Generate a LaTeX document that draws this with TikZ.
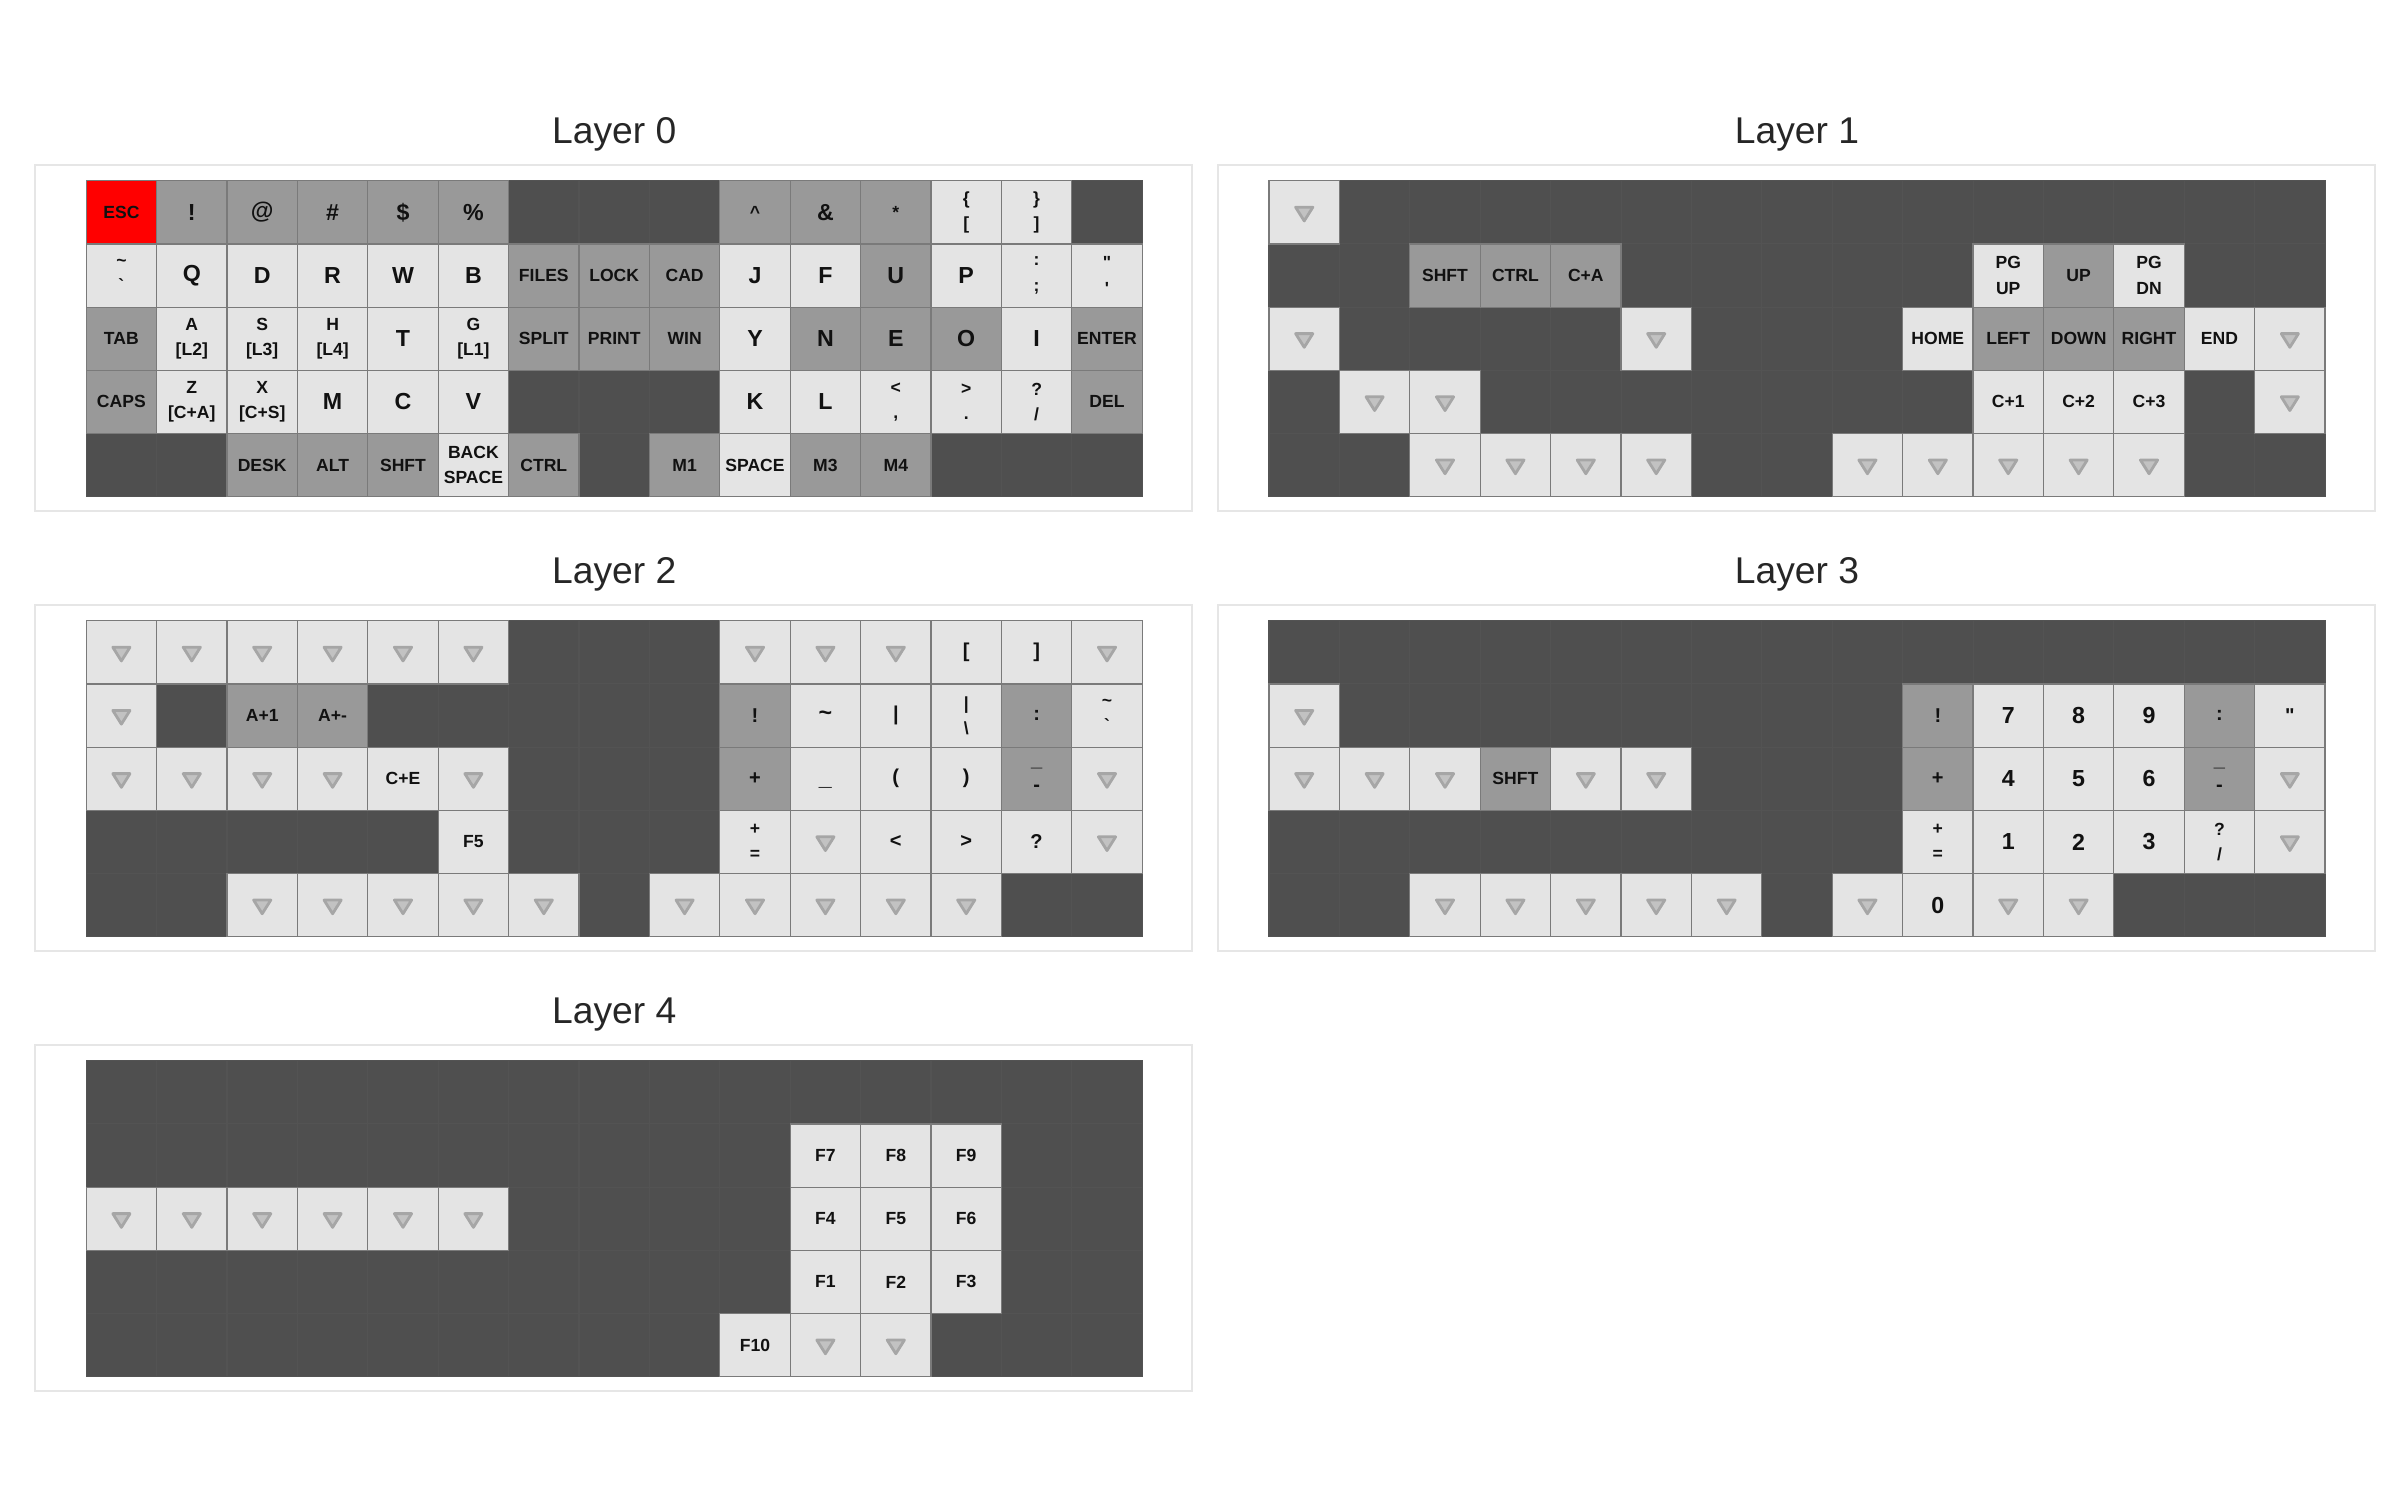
\documentclass[tikz,border=0pt]{standalone}
\usepackage{fontspec}
\setmainfont{Liberation Sans}
\usetikzlibrary{calc}

\definecolor{offfill}{HTML}{4F4F4F}
\definecolor{offline}{HTML}{535353}
\definecolor{midfill}{HTML}{999999}
\definecolor{litefill}{HTML}{E4E4E4}
\definecolor{escfill}{HTML}{FF0000}
\definecolor{keyline}{HTML}{7A7A7A}
\definecolor{frameline}{HTML}{E6E6E6}
\definecolor{markfill}{HTML}{C2C2C2}
\definecolor{markline}{HTML}{A6A6A6}
\definecolor{keytext}{HTML}{111111}
\definecolor{titletext}{HTML}{262626}

\newcommand\capfont{\bfseries\fontsize{5}{7.2}\selectfont}
\newcommand\capbigfont{\bfseries\fontsize{6.6}{7.2}\selectfont}
\newcommand\capsymfont{\bfseries\fontsize{5.7}{7.2}\selectfont}
\newcommand\layerfont{\fontsize{10.6}{12}\selectfont}

% empty 5x15 board, its frame and its title
\newcommand\keyboardgrid[2]{%
  \foreach \row in {0,...,4}
    \foreach \col in {0,...,14}
      \node[blankkey] (#1-off-\row-\col) at (\col+.5,\row+.5) {};
  \draw[framebox] ([shift={(-5.1mm,1.55mm)}]#1-off-0-0.north west)
    rectangle ([shift={(5mm,-1.4mm)}]#1-off-4-14.south east);
  \node[layertitle] (#1-title) at ([yshift=3.74mm]#1-off-0-7.north) {#2};
}

\begin{document}
\begin{tikzpicture}[
  keycell/.style={rectangle,minimum width=7.04mm,minimum height=6.32mm,
    inner sep=0pt,outer sep=0pt,align=center,text=keytext,font=\capfont},
  blankkey/.style={keycell,fill=offfill,draw=offline,line width=0.3pt},
  capkey/.style={keycell,draw=keyline,line width=0.35pt},
  litekey/.style={capkey,fill=litefill},
  midkey/.style={capkey,fill=midfill},
  esckey/.style={capkey,fill=escfill},
  litebig/.style={litekey,font=\capbigfont},
  midbig/.style={midkey,font=\capbigfont},
  litesym/.style={litekey,font=\capsymfont},
  midsym/.style={midkey,font=\capsymfont},
  passkey/.style={litekey,path picture={
    \filldraw[fill=markfill,draw=markline,line width=0.8pt,line join=round]
      ([shift={(-2.45pt,1.45pt)}]path picture bounding box.center)
      -- ++(4.9pt,0pt) -- ++(-2.45pt,-3.9pt) -- cycle;}},
  framebox/.style={draw=frameline,line width=0.6pt},
  layertitle/.style={font=\layerfont,text=titletext,anchor=base,inner sep=0pt}
]
\path[fill=white,use as bounding box] (0,0) rectangle (24,-15);

% Layer 0
\begin{scope}[shift={(0.862,-1.807)},x=7.04mm,y=-6.32mm]
\keyboardgrid{L0}{Layer 0}
\foreach \col/\kind/\lbl in {0/esckey/ESC, 1/midbig/!, 2/midbig/@, 3/midbig/\#,
    4/midbig/\$, 5/midbig/\%, 9/midkey/\textasciicircum, 10/midbig/\&,
    11/midkey/*, 12/litekey/{\{\\{[}}, 13/litekey/{\}\\]}}
  \node[\kind] (L0-0-\col) at (\col+.5,.5) {\lbl};
\foreach \col/\kind/\lbl in {0/litekey/{\textasciitilde\\\textasciigrave},
    1/litebig/Q, 2/litebig/D, 3/litebig/R, 4/litebig/W, 5/litebig/B,
    6/midkey/FILES, 7/midkey/LOCK, 8/midkey/CAD, 9/litebig/J, 10/litebig/F,
    11/midbig/U, 12/litebig/P, 13/litekey/{:\\;},
    14/litekey/{\textquotedbl\\\textquotesingle}}
  \node[\kind] (L0-1-\col) at (\col+.5,1.5) {\lbl};
\foreach \col/\kind/\lbl in {0/midkey/TAB, 1/litekey/{A\\{[L2]}},
    2/litekey/{S\\{[L3]}}, 3/litekey/{H\\{[L4]}}, 4/litebig/T,
    5/litekey/{G\\{[L1]}}, 6/midkey/SPLIT, 7/midkey/PRINT, 8/midkey/WIN,
    9/litebig/Y, 10/midbig/N, 11/midbig/E, 12/midbig/O, 13/litebig/I,
    14/midkey/ENTER}
  \node[\kind] (L0-2-\col) at (\col+.5,2.5) {\lbl};
\foreach \col/\kind/\lbl in {0/midkey/CAPS, 1/litekey/{Z\\{[C+A]}},
    2/litekey/{X\\{[C+S]}}, 3/litebig/M, 4/litebig/C, 5/litebig/V,
    9/litebig/K, 10/litebig/L, 11/litekey/{\textless\\,},
    12/litekey/{\textgreater\\.}, 13/litekey/{?\\/}, 14/midkey/DEL}
  \node[\kind] (L0-3-\col) at (\col+.5,3.5) {\lbl};
\foreach \col/\kind/\lbl in {2/midkey/DESK, 3/midkey/ALT, 4/midkey/SHFT,
    5/litekey/{BACK\\SPACE}, 6/midkey/CTRL, 8/midkey/M1, 9/litekey/SPACE,
    10/midkey/M3, 11/midkey/M4}
  \node[\kind] (L0-4-\col) at (\col+.5,4.5) {\lbl};
\end{scope}

% Layer 1
\begin{scope}[shift={(12.69,-1.807)},x=7.04mm,y=-6.32mm]
\keyboardgrid{L1}{Layer 1}
\node[passkey] (L1-0-0) at (.5,.5) {};
\foreach \col/\kind/\lbl in {2/midkey/SHFT, 3/midkey/CTRL, 4/midkey/C+A,
    10/litekey/{PG\\UP}, 11/midkey/UP, 12/litekey/{PG\\DN}}
  \node[\kind] (L1-1-\col) at (\col+.5,1.5) {\lbl};
\foreach \col/\kind/\lbl in {0/passkey/{}, 5/passkey/{}, 9/litekey/HOME,
    10/midkey/LEFT, 11/midkey/DOWN, 12/midkey/RIGHT, 13/litekey/END,
    14/passkey/{}}
  \node[\kind] (L1-2-\col) at (\col+.5,2.5) {\lbl};
\foreach \col/\kind/\lbl in {1/passkey/{}, 2/passkey/{}, 10/litekey/C+1,
    11/litekey/C+2, 12/litekey/C+3, 14/passkey/{}}
  \node[\kind] (L1-3-\col) at (\col+.5,3.5) {\lbl};
\foreach \col in {2,3,4,5,8,9,10,11,12}
  \node[passkey] (L1-4-\col) at (\col+.5,4.5) {};
\end{scope}

% Layer 2
\begin{scope}[shift={(0.862,-6.207)},x=7.04mm,y=-6.32mm]
\keyboardgrid{L2}{Layer 2}
\foreach \col/\kind/\lbl in {0/passkey/{}, 1/passkey/{}, 2/passkey/{},
    3/passkey/{}, 4/passkey/{}, 5/passkey/{}, 9/passkey/{}, 10/passkey/{},
    11/passkey/{}, 12/litesym/{{[}}, 13/litesym/], 14/passkey/{}}
  \node[\kind] (L2-0-\col) at (\col+.5,.5) {\lbl};
\foreach \col/\kind/\lbl in {0/passkey/{}, 2/midkey/A+1, 3/midkey/A+-,
    9/midsym/!, 10/litebig/\textasciitilde, 11/litesym/\textbar,
    12/litekey/{\textbar\\\textbackslash}, 13/midsym/:,
    14/litekey/{\textasciitilde\\\textasciigrave}}
  \node[\kind] (L2-1-\col) at (\col+.5,1.5) {\lbl};
\foreach \col/\kind/\lbl in {0/passkey/{}, 1/passkey/{}, 2/passkey/{},
    3/passkey/{}, 4/litekey/C+E, 5/passkey/{}, 9/midsym/+,
    10/litebig/{\vphantom{A}\_}, 11/litesym/(, 12/litesym/),
    13/midsym/{\_\\-}, 14/passkey/{}}
  \node[\kind] (L2-2-\col) at (\col+.5,2.5) {\lbl};
\foreach \col/\kind/\lbl in {5/litekey/F5, 9/litekey/{+\\=}, 10/passkey/{},
    11/litesym/\textless, 12/litesym/\textgreater, 13/litesym/?,
    14/passkey/{}}
  \node[\kind] (L2-3-\col) at (\col+.5,3.5) {\lbl};
\foreach \col in {2,3,4,5,6,8,9,10,11,12}
  \node[passkey] (L2-4-\col) at (\col+.5,4.5) {};
\end{scope}

% Layer 3
\begin{scope}[shift={(12.69,-6.207)},x=7.04mm,y=-6.32mm]
\keyboardgrid{L3}{Layer 3}
\foreach \col/\kind/\lbl in {0/passkey/{}, 9/midsym/!, 10/litebig/7,
    11/litebig/8, 12/litebig/9, 13/midsym/:, 14/litesym/\textquotedbl}
  \node[\kind] (L3-1-\col) at (\col+.5,1.5) {\lbl};
\foreach \col/\kind/\lbl in {0/passkey/{}, 1/passkey/{}, 2/passkey/{},
    3/midkey/SHFT, 4/passkey/{}, 5/passkey/{}, 9/midsym/+, 10/litebig/4,
    11/litebig/5, 12/litebig/6, 13/midsym/{\_\\-}, 14/passkey/{}}
  \node[\kind] (L3-2-\col) at (\col+.5,2.5) {\lbl};
\foreach \col/\kind/\lbl in {9/litekey/{+\\=}, 10/litebig/1, 11/litebig/2,
    12/litebig/3, 13/litekey/{?\\/}, 14/passkey/{}}
  \node[\kind] (L3-3-\col) at (\col+.5,3.5) {\lbl};
\foreach \col/\kind/\lbl in {2/passkey/{}, 3/passkey/{}, 4/passkey/{},
    5/passkey/{}, 6/passkey/{}, 8/passkey/{}, 9/litebig/0, 10/passkey/{},
    11/passkey/{}}
  \node[\kind] (L3-4-\col) at (\col+.5,4.5) {\lbl};
\end{scope}

% Layer 4
\begin{scope}[shift={(0.862,-10.607)},x=7.04mm,y=-6.32mm]
\keyboardgrid{L4}{Layer 4}
\foreach \col/\lbl in {10/F7, 11/F8, 12/F9}
  \node[litekey] (L4-1-\col) at (\col+.5,1.5) {\lbl};
\foreach \col in {0,...,5}
  \node[passkey] (L4-2-\col) at (\col+.5,2.5) {};
\foreach \col/\lbl in {10/F4, 11/F5, 12/F6}
  \node[litekey] (L4-2-\col) at (\col+.5,2.5) {\lbl};
\foreach \col/\lbl in {10/F1, 11/F2, 12/F3}
  \node[litekey] (L4-3-\col) at (\col+.5,3.5) {\lbl};
\foreach \col/\kind/\lbl in {9/litekey/F10, 10/passkey/{}, 11/passkey/{}}
  \node[\kind] (L4-4-\col) at (\col+.5,4.5) {\lbl};
\end{scope}
\end{tikzpicture}
\end{document}
